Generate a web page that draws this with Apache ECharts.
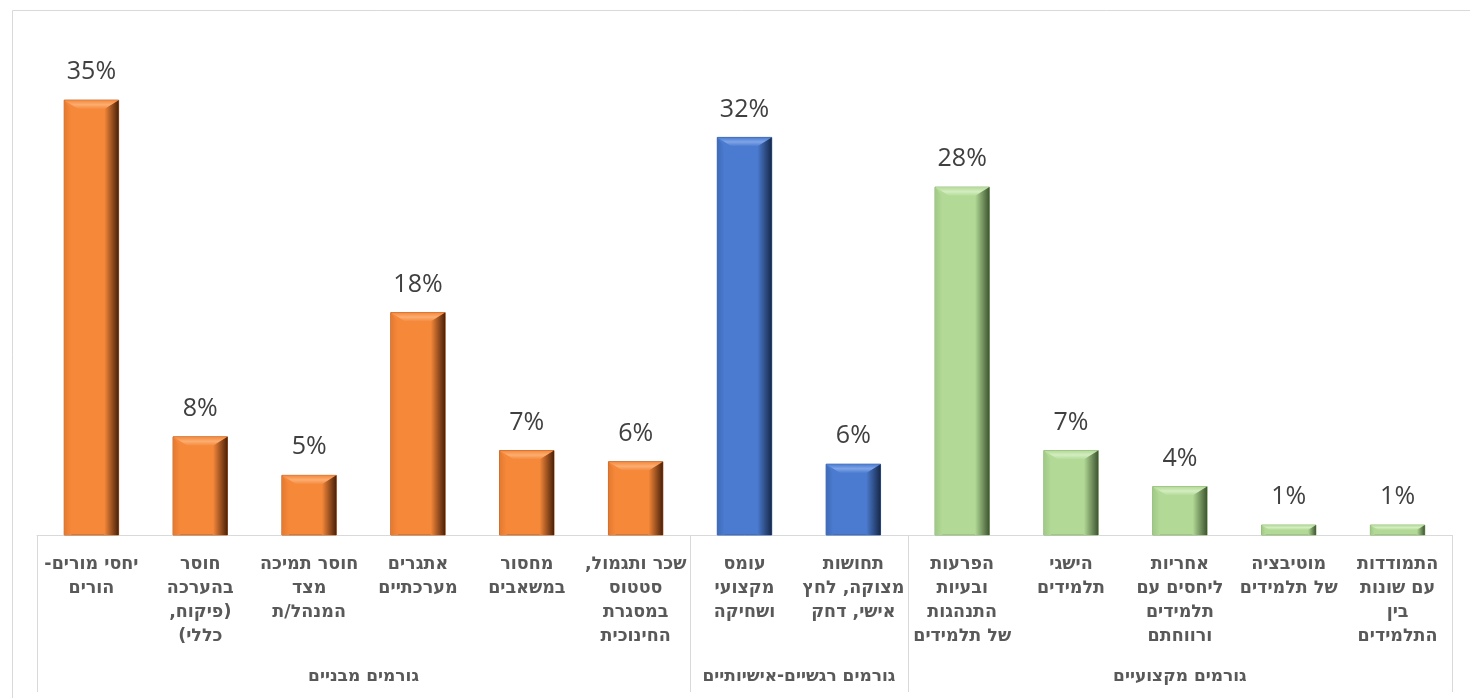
<!DOCTYPE html>
<html>
<head>
<meta charset="utf-8">
<script src="https://cdn.jsdelivr.net/npm/echarts@6/dist/echarts.min.js"></script>
<style>
html,body{margin:0;padding:0;background:#fff;}
#chart{width:1470px;height:698px;}
</style>
</head>
<body>
<div id="chart" dir="rtl"></div>
<script>
const categories = [
  "יחסי מורים-\nהורים",
  "חוסר\nבהערכה\n(פיקוח,\nכללי)",
  "חוסר תמיכה\nמצד\nהמנהל/ת",
  "אתגרים\nמערכתיים",
  "מחסור\nבמשאבים",
  "שכר ותגמול,\nסטטוס\nבמסגרת\nהחינוכית",
  "עומס\nמקצועי\nושחיקה",
  "תחושות\nמצוקה, לחץ\nאישי, דחק",
  "הפרעות\nובעיות\nהתנהגות\nשל תלמידים",
  "הישגי\nתלמידים",
  "אחריות\nליחסים עם\nתלמידים\nורווחתם",
  "מוטיבציה\nשל תלמידים",
  "התמודדות\nעם שונות\nבין\nהתלמידים"
];
const values = [35, 7.9, 4.8, 17.9, 6.8, 5.9, 32, 5.7, 28, 6.8, 3.9, 0.8, 0.8];
const labels = ["35%","8%","5%","18%","7%","6%","32%","6%","28%","7%","4%","1%","1%"];
const groupOf = [0,0,0,0,0,0,1,1,2,2,2,2,2];
const groupNames = ["גורמים מבניים","גורמים רגשיים-אישיותיים","גורמים מקצועיים"];
const groupStarts = [0, 6, 8];
const groupEnds = [5, 7, 12];

const palettes = [
  {body:'#F6883A', top:'#FBAE72', left:'#E47A30', right:'#4A2008', edge:'#B8622A'},
  {body:'#4B7BD0', top:'#7FA5E8', left:'#3F6BB8', right:'#16284A', edge:'#3A62A8'},
  {body:'#B2DA96', top:'#D3EDC0', left:'#A0C886', right:'#3E5530', edge:'#8FB377'}
];
const labelFont = '"DejaVu Sans","Liberation Sans",sans-serif';

const chart = echarts.init(document.getElementById('chart'), null, {renderer:'canvas'});

const barData = values.map((v,i)=>[i, v, groupOf[i]]);
const groupData = groupStarts.map((s,i)=>[s, groupEnds[i]]);

function renderBar(params, api){
  const idx = api.value(0), v = api.value(1);
  const pal = palettes[groupOf[params.dataIndex]];
  const top = api.coord([idx, v]);
  const base = api.coord([idx, 0]);
  const band = api.size([1,0])[0];
  const w = band*0.5;
  const x0 = top[0]-w/2, x1 = top[0]+w/2, yT = top[1], yB = base[1];
  const b = Math.min(9, (yB-yT)/2);
  return {
    type:'group',
    children:[
      {type:'rect', shape:{x:x0,y:yT,width:w,height:yB-yT}, style:{fill:pal.body, stroke:pal.edge, lineWidth:1}},
      {type:'polygon', shape:{points:[[x0,yT],[x1,yT],[x1-b*1.6,yT+b],[x0+b*1.6,yT+b]]},
        style:{fill:new echarts.graphic.LinearGradient(0,0,0,1,[{offset:0,color:pal.body},{offset:0.5,color:pal.top},{offset:1,color:pal.body}])}},
      {type:'polygon', shape:{points:[[x0,yT],[x0+b*0.8,yT+b],[x0+b*0.8,yB],[x0,yB]]},
        style:{fill:new echarts.graphic.LinearGradient(0,0,1,0,[{offset:0,color:pal.left},{offset:1,color:pal.body}])}},
      {type:'polygon', shape:{points:[[x1,yT],[x1,yB],[x1-b*1.6,yB],[x1-b*1.6,yT+b]]},
        style:{fill:new echarts.graphic.LinearGradient(0,0,1,0,[{offset:0,color:pal.body},{offset:1,color:pal.right}])}},
      {type:'text', style:{text:labels[params.dataIndex], x:top[0], y:yT-28, align:'center', verticalAlign:'middle',
        fill:'#404040', fontSize:25, fontFamily:'"Open Sans","Noto Sans",sans-serif'}}
    ]
  };
}

function renderGroup(params, api){
  const s = api.value(0), e = api.value(1);
  const p0 = api.coord([s, 0]);
  const p1 = api.coord([e, 0]);
  const band = api.size([1,0])[0];
  const xl = p0[0]-band/2, xr = p1[0]+band/2, y = p0[1];
  return {
    type:'group',
    children:[
      {type:'line', shape:{x1:Math.round(xl)+0.5,y1:y,x2:Math.round(xl)+0.5,y2:y+157}, style:{stroke:'#D9D9D9', lineWidth:1}},
      {type:'line', shape:{x1:Math.round(xr)+0.5,y1:y,x2:Math.round(xr)+0.5,y2:y+157}, style:{stroke:'#D9D9D9', lineWidth:1}},
      {type:'text', style:{text:groupNames[params.dataIndex], x:(xl+xr)/2, y:y+142, align:'center', verticalAlign:'middle',
        fill:'#595959', fontSize:17, fontWeight:'bold', fontFamily:labelFont}}
    ]
  };
}

chart.setOption({
  animation:false,
  graphic:[{type:'rect', left:10, top:8, shape:{width:1480, height:720}, style:{fill:'none', stroke:'#D9D9D9', lineWidth:1}, silent:true, z:-1}],
  grid:{left:37, right:18, top:38, bottom:163},
  xAxis:{
    type:'category', data:categories,
    axisLine:{lineStyle:{color:'#D9D9D9'}},
    axisTick:{show:false},
    axisLabel:{interval:0, margin:17, color:'#595959', fontSize:17.5, fontWeight:'bold', lineHeight:24,
      fontFamily:labelFont}
  },
  yAxis:{type:'value', min:0, max:40, show:false, splitLine:{show:false}},
  series:[
    {type:'custom', renderItem:renderBar, data:barData, encode:{x:0,y:1}, clip:false},
    {type:'custom', renderItem:renderGroup, data:groupData, encode:{x:0}, clip:false, silent:true}
  ]
});
</script>
</body>
</html>
